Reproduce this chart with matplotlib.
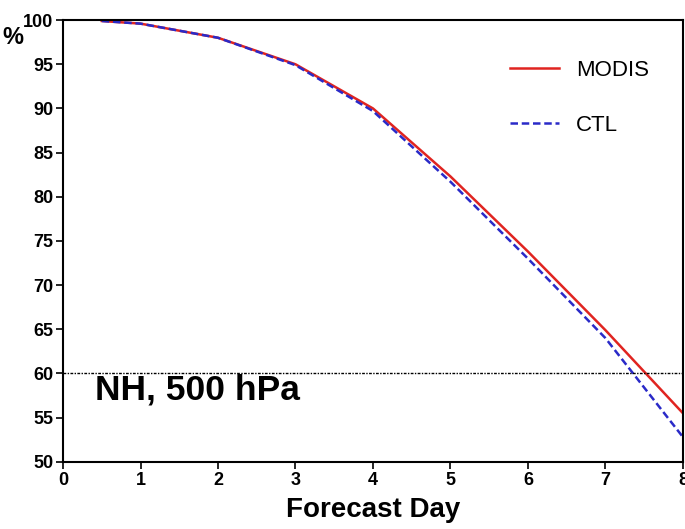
import matplotlib
matplotlib.use("Agg")
import matplotlib.pyplot as plt

days = [0.5, 1, 2, 3, 4, 5, 6, 7, 8]
modis = [99.9, 99.6, 98.0, 95.0, 90.0, 82.3, 73.8, 64.9, 55.5]
ctl = [99.9, 99.6, 98.0, 94.9, 89.7, 81.7, 73.0, 64.0, 52.8]
xticks = [0, 1, 2, 3, 4, 5, 6, 7, 8]
yticks = [50, 55, 60, 65, 70, 75, 80, 85, 90, 95, 100]

sans = ["Liberation Sans", "DejaVu Sans"]

fig = plt.figure(figsize=(6.85, 5.29), dpi=100)
ax = fig.add_axes([0.092, 0.127, 0.905, 0.835])

ax.plot(days, modis, color="#e02420", lw=1.8, label="MODIS")
ax.plot(days, ctl, color="#2a2ac8", lw=1.8, ls=(0, (3, 1.5)), label="CTL")
ax.axhline(60, color="black", lw=1.0, ls=(0, (2, 1, 1, 1)))

ax.set_xlim(0, 8)
ax.set_ylim(50, 100)
ax.set_xticks(xticks)
ax.set_yticks(yticks)
for lab in ax.get_xticklabels() + ax.get_yticklabels():
    lab.set_family(sans)
    lab.set_fontweight("bold")
    lab.set_fontsize(13)
ax.tick_params(direction="out", length=5, width=1.2, pad=2)
for s in ax.spines.values():
    s.set_linewidth(1.5)

ax.set_xlabel("Forecast Day", family=sans, fontsize=20, fontweight="bold", labelpad=6)
fig.text(0.004, 0.916, "%", fontsize=17, fontweight="bold", family=sans)
ax.text(0.41, 58.1, "NH, 500 hPa", fontsize=25.5, fontweight="bold", family=sans, va="center")

leg = ax.legend(loc="upper right", bbox_to_anchor=(0.977, 0.956), frameon=False,
                prop={"family": sans, "size": 16}, handlelength=2.2,
                labelspacing=1.55, handletextpad=0.75)

fig.savefig("out.png", dpi=100)
